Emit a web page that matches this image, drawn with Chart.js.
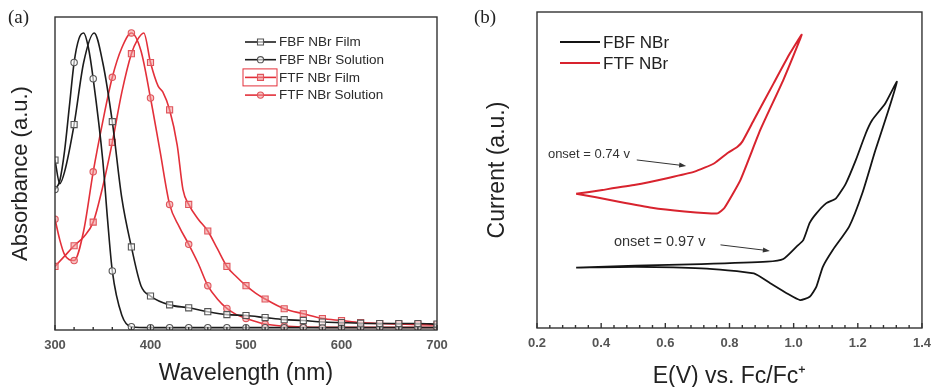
<!DOCTYPE html>
<html><head><meta charset="utf-8">
<script src="https://cdn.jsdelivr.net/npm/chart.js@4.4.1/dist/chart.umd.min.js"></script>
<style>
body{margin:0;background:#fff;width:939px;height:387px;overflow:hidden;position:relative;font-family:"Liberation Sans",Arial,sans-serif}
#wa{position:absolute;left:0;top:0;width:470px;height:387px}
#wb{position:absolute;left:470px;top:0;width:469px;height:387px}
.lbl{position:absolute;font-family:"Liberation Serif","Times New Roman",serif;font-size:19px;color:#222}
</style></head><body>
<div id="wa"><canvas id="ca"></canvas></div>
<div id="wb"><canvas id="cb"></canvas></div>
<div class="lbl" style="left:8px;top:6px">(a)</div>
<div class="lbl" style="left:474px;top:6px">(b)</div>
<script>
// ---------- (a) UV-vis absorption (normalised) ----------
const fbfFilmWl  = [300,305,310,320,330,341,350,360,370,380,390,400,420,440,460,480,500,520,540,560,580,600,620,640,660,680,700];
const fbfFilmAbs = [0.57,0.49,0.53,0.69,0.90,1.00,0.90,0.70,0.44,0.276,0.145,0.11,0.08,0.07,0.057,0.047,0.044,0.037,0.030,0.027,0.022,0.020,0.018,0.017,0.017,0.017,0.015];
const fbfSolWl   = [300,305,310,315,320,325,330,335,340,350,355,360,370,380,400,420,440,460,480,500,520,540,560,580,600,620,640,660,680,700];
const fbfSolAbs  = [0.47,0.50,0.60,0.75,0.90,0.98,1.00,0.95,0.845,0.57,0.37,0.195,0.045,0.006,0.003,0.003,0.003,0.003,0.003,0.003,0.003,0.003,0.003,0.003,0.003,0.003,0.003,0.003,0.003,0.003];
const ftfFilmWl  = [300,310,320,330,340,350,360,370,380,386,393,400,408,413,420,428,434,440,450,460,470,480,490,500,510,520,540,560,580,600,620,640,660,680,700];
const ftfFilmAbs = [0.21,0.245,0.28,0.31,0.36,0.48,0.63,0.80,0.93,0.975,1.00,0.90,0.82,0.80,0.74,0.62,0.47,0.42,0.37,0.33,0.27,0.21,0.175,0.145,0.12,0.10,0.067,0.05,0.034,0.027,0.02,0.017,0.015,0.013,0.012];
const ftfSolWl   = [300,305,310,320,330,340,350,360,370,380,390,400,410,420,430,440,450,460,470,480,490,500,510,520,540,560,580,600,620,640,660,680,700];
const ftfSolAbs  = [0.37,0.30,0.25,0.23,0.33,0.53,0.70,0.85,0.95,1.00,0.94,0.78,0.60,0.42,0.345,0.285,0.22,0.145,0.10,0.068,0.047,0.034,0.024,0.015,0.008,0.005,0.004,0.004,0.004,0.004,0.004,0.004,0.004];
const absLabels  = ['FBF NBr Film','FBF NBr Solution','FTF NBr Film','FTF NBr Solution'];
const wlTicks    = [300,400,500,600,700];

// ---------- (b) cyclic voltammetry ----------
const fbfCvV = [0.322,0.507,0.712,0.917,0.968,1.009,1.030,1.050,1.071,1.102,1.132,1.163,1.194,1.225,1.245,1.286,1.322,1.296,1.255,1.214,1.173,1.122,1.091,1.071,1.050,1.020,0.978,0.927,0.876,0.712,0.507,0.322];
const fbfCvI = [2.01,2.08,2.13,2.21,2.30,2.71,2.93,3.50,3.82,4.16,4.32,4.82,5.60,6.49,6.93,7.49,8.21,7.27,5.93,4.49,3.38,2.60,2.04,1.38,1.04,0.93,1.16,1.49,1.82,1.99,2.04,2.01];
const ftfCvV = [0.322,0.404,0.507,0.609,0.691,0.753,0.794,0.825,0.840,0.876,0.938,0.989,1.025,0.968,0.896,0.834,0.784,0.763,0.732,0.660,0.558,0.455,0.384,0.322];
const ftfCvI = [4.47,4.60,4.77,5.00,5.21,5.49,5.83,6.04,6.21,6.93,8.16,9.16,9.77,8.27,6.60,4.93,4.00,3.82,3.82,3.88,4.01,4.21,4.36,4.47];
const cvLabels = ['FBF NBr','FTF NBr'];
const cvTicks  = [0.2,0.4,0.6,0.8,1.0,1.2,1.4];
const onsetTexts = ['onset = 0.74 v','onset = 0.97 v'];

const pts = (xs, ys) => xs.map((x, i) => ({x, y: ys[i]}));
Chart.defaults.font.family = "'Liberation Sans', Arial, sans-serif";
const FRAME = '#333';
const RED = '#e3303a';

function frameAndTicks(major, minor, bigLen, smallLen) {
  return {
    id: 'frameTicks',
    afterDraw(chart) {
      const {ctx, chartArea: a, scales: {x}} = chart;
      ctx.save();
      ctx.strokeStyle = FRAME; ctx.lineWidth = 1.4;
      const n = Math.round((x.max - x.min) / minor);
      const per = Math.round(major / minor);
      for (let k = 0; k <= n; k++) {
        const px = x.getPixelForValue(x.min + k * minor);
        const len = k % per === 0 ? bigLen : smallLen;
        ctx.beginPath(); ctx.moveTo(px, a.bottom); ctx.lineTo(px, a.bottom - len); ctx.stroke();
      }
      ctx.strokeRect(a.left, a.top, a.right - a.left, a.bottom - a.top);
      ctx.restore();
    }
  };
}

function drawMarker(ctx, style, x, y, stroke, fill) {
  ctx.save(); ctx.lineWidth = 1.1; ctx.strokeStyle = stroke; ctx.fillStyle = fill;
  ctx.beginPath();
  if (style === 'rect') ctx.rect(x - 3, y - 3, 6, 6); else ctx.arc(x, y, 3.1, 0, Math.PI * 2);
  ctx.fill(); ctx.stroke(); ctx.restore();
}

const legendA = {
  id: 'legendA',
  afterDraw(chart) {
    const {ctx, chartArea: a} = chart;
    const x0 = a.left + 190, y0 = a.top + 25, dy = 17.7;
    ctx.save();
    ctx.font = "13.5px 'Liberation Sans', Arial, sans-serif";
    ctx.textBaseline = 'middle';
    chart.data.datasets.forEach((ds, i) => {
      const y = y0 + i * dy;
      ctx.strokeStyle = ds.borderColor; ctx.lineWidth = 1.6;
      ctx.beginPath(); ctx.moveTo(x0, y); ctx.lineTo(x0 + 31, y); ctx.stroke();
      drawMarker(ctx, ds.pointStyle, x0 + 15.5, y, ds.pointBorderColor, ds.pointBackgroundColor);
      if (i === 2) { ctx.strokeStyle = RED; ctx.lineWidth = 1; ctx.strokeRect(x0 - 2, y - 8.5, 34, 17); }
      ctx.fillStyle = '#2a2a2a';
      ctx.fillText(ds.label, x0 + 34, y + 0.5);
    });
    ctx.restore();
  }
};

const markerR = ctx => (ctx.raw && ctx.raw.x % 20 === 0) ? 3.2 : 0;
const markerRect = ctx => (ctx.raw && ctx.raw.x % 20 === 0) ? 4.3 : 0;
function absDs(label, xs, ys, color, mStroke, mFill, style) {
  return {label, data: pts(xs, ys), borderColor: color, borderWidth: 1.6,
    pointStyle: style, pointRadius: style === 'rect' ? markerRect : markerR,
    pointBorderColor: mStroke, pointBackgroundColor: mFill, pointBorderWidth: 1.1,
    cubicInterpolationMode: 'monotone', fill: false};
}

const tickFont = {size: 13, weight: 'bold'};
new Chart(document.getElementById('ca'), {
  type: 'line',
  data: {datasets: [
    absDs(absLabels[0], fbfFilmWl, fbfFilmAbs, '#1c1c1c', '#555', 'rgba(255,255,255,0.6)', 'rect'),
    absDs(absLabels[1], fbfSolWl, fbfSolAbs, '#1c1c1c', '#555', 'rgba(255,255,255,0.6)', 'circle'),
    absDs(absLabels[2], ftfFilmWl, ftfFilmAbs, RED, '#e0555c', 'rgba(240,150,150,0.55)', 'rect'),
    absDs(absLabels[3], ftfSolWl, ftfSolAbs, RED, '#e0555c', 'rgba(240,150,150,0.55)', 'circle')
  ]},
  options: {
    animation: false, responsive: true, maintainAspectRatio: false,
    layout: {padding: {left: 0, right: 33, top: 17, bottom: 0}},
    plugins: {legend: {display: false}, tooltip: {enabled: false}},
    scales: {
      x: {type: 'linear', min: 300, max: 700,
        afterBuildTicks: s => { s.ticks = wlTicks.map(v => ({value: v})); },
        afterFit: s => { s.height = 57; },
        grid: {display: false, drawTicks: false}, border: {display: false},
        ticks: {padding: 8, color: '#555', font: tickFont, maxRotation: 0},
        title: {display: true, text: 'Wavelength (nm)', color: '#222', font: {size: 23}, padding: {top: 0, bottom: 0}}},
      y: {min: -0.005, max: 1.054,
        afterFit: s => { s.width = 55; },
        grid: {display: false, drawTicks: false}, border: {display: false},
        ticks: {display: false},
        title: {display: true, text: 'Absorbance (a.u.)', color: '#222', font: {size: 22}, padding: {top: 8, bottom: 0}}}
    }
  },
  plugins: [frameAndTicks(100, 20, 5, 3), legendA]
});

// ---------- chart (b) ----------
const annotB = [
  {text: onsetTexts[0], tx: 0.234, ty: 5.77, size: 13, ax0: 0.511, ay0: 5.60, ax1: 0.665, ay1: 5.40},
  {text: onsetTexts[1], tx: 0.440, ty: 2.87, size: 14.5, ax0: 0.772, ay0: 2.77, ax1: 0.926, ay1: 2.57}
];
const legendB = {
  id: 'legendB',
  afterDraw(chart) {
    const {ctx, chartArea: a, scales: {x, y}} = chart;
    ctx.save();
    const x0 = a.left + 23, y0 = a.top + 30, dy = 21;
    ctx.font = "17px 'Liberation Sans', Arial, sans-serif";
    ctx.textBaseline = 'middle';
    chart.data.datasets.forEach((ds, i) => {
      const yy = y0 + i * dy;
      ctx.strokeStyle = ds.borderColor; ctx.lineWidth = 2;
      ctx.beginPath(); ctx.moveTo(x0, yy); ctx.lineTo(x0 + 40, yy); ctx.stroke();
      ctx.fillStyle = '#222'; ctx.fillText(ds.label, x0 + 43, yy + 1);
    });
    annotB.forEach(n => {
      ctx.font = n.size + "px 'Liberation Sans', Arial, sans-serif";
      ctx.fillStyle = '#333'; ctx.textBaseline = 'middle';
      ctx.fillText(n.text, x.getPixelForValue(n.tx), y.getPixelForValue(n.ty));
      const p0 = [x.getPixelForValue(n.ax0), y.getPixelForValue(n.ay0)];
      const p1 = [x.getPixelForValue(n.ax1), y.getPixelForValue(n.ay1)];
      const ang = Math.atan2(p1[1] - p0[1], p1[0] - p0[0]);
      ctx.strokeStyle = '#333'; ctx.lineWidth = 1;
      ctx.beginPath(); ctx.moveTo(p0[0], p0[1]); ctx.lineTo(p1[0] - 5 * Math.cos(ang), p1[1] - 5 * Math.sin(ang)); ctx.stroke();
      ctx.fillStyle = '#333'; ctx.beginPath();
      ctx.moveTo(p1[0], p1[1]);
      ctx.lineTo(p1[0] - 7 * Math.cos(ang) + 2.5 * Math.sin(ang), p1[1] - 7 * Math.sin(ang) - 2.5 * Math.cos(ang));
      ctx.lineTo(p1[0] - 7 * Math.cos(ang) - 2.5 * Math.sin(ang), p1[1] - 7 * Math.sin(ang) + 2.5 * Math.cos(ang));
      ctx.closePath(); ctx.fill();
    });
    ctx.restore();
  }
};

new Chart(document.getElementById('cb'), {
  type: 'scatter',
  data: {datasets: [
    {label: cvLabels[0], data: pts(fbfCvV, fbfCvI), showLine: true, borderColor: '#141414', borderWidth: 1.8, pointRadius: 0, tension: 0.18},
    {label: cvLabels[1], data: pts(ftfCvV, ftfCvI), showLine: true, borderColor: '#d8232e', borderWidth: 2, pointRadius: 0, tension: 0.15}
  ]},
  options: {
    animation: false, responsive: true, maintainAspectRatio: false,
    layout: {padding: {left: 0, right: 12, top: 12, bottom: 0}},
    plugins: {legend: {display: false}, tooltip: {enabled: false}},
    scales: {
      x: {type: 'linear', min: 0.2, max: 1.4,
        afterBuildTicks: s => { s.ticks = cvTicks.map(v => ({value: v})); },
        afterFit: s => { s.height = 59; },
        grid: {display: false, drawTicks: false}, border: {display: false},
        ticks: {padding: 8, color: '#555', font: tickFont, maxRotation: 0, callback: v => Number(v).toFixed(1)},
        title: {display: true, text: 'E(V) vs. Fc/Fc⁺', color: '#222', font: {size: 23}, padding: {top: 0, bottom: -3}}},
      y: {min: 0, max: 10.53,
        afterFit: s => { s.width = 67; },
        grid: {display: false, drawTicks: false}, border: {display: false},
        ticks: {display: false},
        title: {display: true, text: 'Current (a.u.)', color: '#222', font: {size: 23}, padding: {top: 14, bottom: 0}}}
    }
  },
  plugins: [frameAndTicks(0.2, 0.04, 5, 3), legendB]
});
</script>
</body></html>
